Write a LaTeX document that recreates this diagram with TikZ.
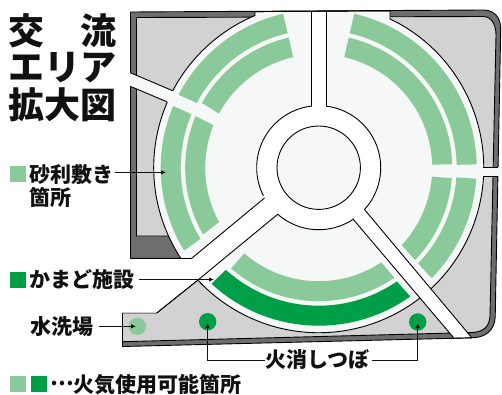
\documentclass[tikz,border=0pt]{standalone}
\usepackage{fontspec}
\setmainfont{Noto Sans CJK JP}
\usetikzlibrary{arrows.meta}
\definecolor{lightg}{HTML}{8AC999}
\definecolor{darkg}{HTML}{009E47}
\definecolor{bgc}{HTML}{F6F8F7}
\definecolor{grayf}{HTML}{D2D2D2}
\definecolor{darkf}{HTML}{6E6E6E}
\definecolor{ink}{HTML}{111111}
\tikzset{
  edge/.style={draw=black,line width=0.9pt,line join=round},
  lbl/.style={font=\bfseries\fontsize{21}{23}\selectfont,text=ink,inner sep=0pt,anchor=west},
  ttl/.style={font=\bfseries\fontsize{36}{38}\selectfont,text=ink,inner sep=0pt,anchor=west},
  sw/.style={minimum size=16pt,inner sep=0pt,outer sep=0pt,draw=none,anchor=north west},
  conn/.style={draw=ink,line width=0.9pt},
  arr/.style={conn,-{Latex[length=5pt,width=4.5pt]}},
  spot/.style={circle,minimum size=17.4pt,inner sep=0pt,draw=none}
}
\newcommand\band[7]{\fill[#7] (#4:#2) arc[start angle=#4,end angle=#6,radius=#2] -- (#5:#1) arc[start angle=#5,end angle=#3,radius=#1] -- cycle;}
\begin{document}
\begin{tikzpicture}[x=1pt,y=1pt,yscale=-1]
\useasboundingbox (0,0) rectangle (502,394);
% frame
\draw[edge,fill=darkf] (130.5,12) -- (483,10) .. controls (494,10) and (501,17) .. (500.7,30)
  -- (495.2,317) .. controls (494.5,330) and (486,337.5) .. (472,337.8)
  -- (122.5,346.5) -- (122.5,313) -- (156.7,313) -- (198.3,279.7) -- (191.7,258.3) -- (130.5,258.3) -- cycle;
% gravel-coloured ground
\draw[edge,fill=grayf] (136.5,17.5) -- (483,16.5) .. controls (491,16.5) and (496,24) .. (496,35)
  -- (490,316) .. controls (489.5,326) and (484,332) .. (472,332.5)
  -- (122.5,341.7) -- (122.5,313) -- (156.7,313) -- (198.3,279.7) -- (170,236) -- (136.5,236) -- cycle;
% big circle
\draw[edge,fill=bgc] (255,11.6) -- (390,10.8) -- (390,18.9) arc[start angle=-64.4,end angle=247.3,radius=165] -- cycle;
% gap between the two frame parts
\fill[white] (121,258.9) -- (191.5,258.9) -- (198,279.5) -- (156.7,312.5) -- (121,312.5) -- cycle;
\draw[edge] (130.5,258.3) -- (191.7,258.3);
\draw[edge] (156.7,313) -- (198.3,279.7);
% gravel bands
\begin{scope}[shift={(318.7,167.7)}]
\band{138}{158}{-77}{-77}{-1.2}{-1.2}{lightg}
\band{113.5}{133.5}{-77}{-77}{-1.5}{-1.5}{lightg}
\band{138}{158}{4}{4}{44}{44.3}{lightg}
\band{113.5}{133.5}{4.5}{4.5}{43}{43.8}{lightg}
\band{113.5}{133.5}{56.5}{55.5}{131}{131}{lightg}
\band{138}{158}{55.5}{54.6}{132.3}{132.7}{darkg}
\band{113.5}{133.5}{151.4}{150}{202}{202.7}{lightg}
\band{138}{158}{149}{148.4}{202.8}{203}{lightg}
\band{113.5}{133.5}{208.5}{209}{257}{257}{lightg}
\band{138}{158}{208}{207.5}{257}{257}{lightg}
\end{scope}
% ring and centre
\draw[edge,fill=white] (318.7,167.7) circle[radius=62];
% roads
\fill[white] (311.5,11.5) rectangle (326,112);
\draw[edge] (311.5,11.3) -- (311.5,106);
\draw[edge] (326,11.2) -- (326,106.2);
\fill[white] (364.3,209.3) -- (471,337.4) -- (453.7,337.8) -- (352.7,218.7) -- (345,208) -- (355,198) -- cycle;
\draw[edge] (364.3,209.3) -- (471,336.8);
\draw[edge] (352.7,218.7) -- (453.7,337.8);
\fill[white] (191.9,258.9) -- (264.5,198) -- (277.7,214.3) -- (198.2,279.5) -- cycle;
\fill[white] (262,196) -- (285,193) -- (285,208) -- (277,214) -- cycle;
\draw[edge] (191.7,258.3) -- (264.5,198);
\draw[edge] (198.3,279.7) -- (277.7,214.3);
\fill[bgc] (130,72.7) -- (176,92.2) -- (170,103.2) -- (130,86.4) -- cycle;
\draw[edge] (130.5,72.8) -- (172.7,90.7);
\draw[edge] (130.5,86.4) -- (166.7,101.7);
\fill[bgc] (478,167.3) -- (501.5,167.3) -- (501.5,175.7) -- (478,175.7) -- cycle;
\draw[edge] (482.8,167) -- (498.3,167);
\draw[edge] (482.8,176) -- (498.2,176);
\draw[edge] (255,11.6) -- (390,10.8);
\draw[edge] (453,338.2) -- (472,337.8);
\draw[edge,fill=bgc] (318.7,167.7) circle[radius=41.7];
% spots
\node[spot,fill=lightg] (wash) at (137.3,326.3) {};
\node[spot,fill=darkg] (fireL) at (207.7,321.7) {};
\node[spot,fill=darkg] (fireR) at (417.7,322) {};
% title
\node[ttl] (t1) at (8.5,30.5) {交　流};
\node[ttl] (t2) at (8.5,67.5) {エリア};
\node[ttl] (t3) at (8.5,104.5) {拡大図};
% legend and labels
\node[sw,fill=lightg] (s1) at (10,166) {};
\node[lbl] (gravel) at (29,174) {砂利敷き};
\node[lbl] (gravel2) at (29,197) {箇所};
\node[sw,fill=darkg] (s2) at (10,272) {};
\node[lbl] (kamado) at (29.5,279.7) {かまど施設};
\node[lbl] (washl) at (30.5,327) {水洗場};
\node[lbl] (ext) at (265.5,359) {火消しつぼ};
\node[sw,fill=lightg] (s3) at (10,376) {};
\node[sw,fill=darkg] (s4) at (31.3,376) {};
\node[lbl] (usable) at (50,384.7) {\raisebox{0.34em}{…}火気使用可能箇所};
% connectors
\coordinate (gravelTip) at (166,172.3);
\coordinate (kamadoTip) at (214,279.5);
\coordinate (washTip) at (136,326.3);
\coordinate (fireLTip) at (207.5,323);
\coordinate (fireRTip) at (417.7,323);
\draw[arr] ([xshift=1.5pt]gravel.east |- gravelTip) -- (gravelTip);
\draw[arr] ([xshift=4.5pt]kamado.east |- kamadoTip) -- (kamadoTip);
\draw[arr] ([xshift=5pt]washl.east |- washTip) -- (washTip);
\draw[arr] ([xshift=-1pt]ext.west |- 0,360.3) -| (fireLTip);
\draw[arr] ([xshift=2pt]ext.east |- 0,360.3) -| (fireRTip);
\end{tikzpicture}
\end{document}
